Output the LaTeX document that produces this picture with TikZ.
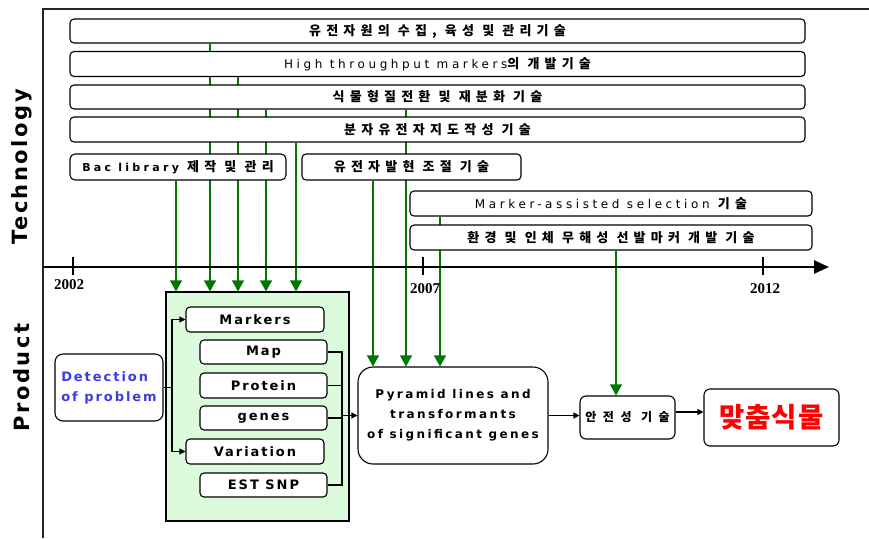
\documentclass[tikz,border=0pt]{standalone}
\usepackage{fontspec}
\usetikzlibrary{arrows.meta,backgrounds}

% fonts
\newfontfamily\krrow{Noto Sans CJK KR}[LetterSpace=40]
\newfontfamily\latrow{DejaVu Sans}[LetterSpace=30]
\newfontfamily\krsafe{Noto Sans CJK KR}[LetterSpace=55]
\newfontfamily\krbig{Noto Sans CJK KR}[LetterSpace=3]
\newfontfamily\bacfont{DejaVu Sans}[LetterSpace=30]
\newfontfamily\boxfont{DejaVu Sans}[LetterSpace=15]
\newfontfamily\pyrfont{DejaVu Sans}[LetterSpace=20]
\newfontfamily\sidefont{DejaVu Sans}[LetterSpace=12]
\newfontfamily\yearfont{Liberation Serif}

% Latin words inside the technology rows
\newcommand\latin[1]{{\latrow\mdseries\fontsize{12}{14}\selectfont #1}}

% colours
\definecolor{dkgreen}{RGB}{0,120,0}
\definecolor{prodfill}{RGB}{220,250,220}
\definecolor{detblue}{RGB}{60,60,230}
\definecolor{fitred}{RGB}{255,0,0}

\tikzset{
  techbox/.style={draw, line width=1.1pt, fill=white, rounded corners=4pt,
    inner sep=0pt, font=\krrow\bfseries\fontsize{13}{15}\selectfont},
  itembox/.style={draw, line width=1.1pt, fill=white, rounded corners=4pt,
    inner sep=0pt, font=\boxfont\bfseries\fontsize{13}{15}\selectfont},
  gline/.style={draw=dkgreen, line width=1.1pt,
    -{Triangle[width=12pt,length=11pt]}},
  blink/.style={line width=1.1pt, -{Triangle[width=6pt,length=6pt]}},
  bline/.style={line width=1.1pt},
  sidelabel/.style={rotate=90, inner sep=0pt,
    font=\sidefont\bfseries\fontsize{21}{24}\selectfont},
  yearlabel/.style={inner sep=0pt, font=\yearfont\bfseries\fontsize{15}{17}\selectfont},
  tick/.style={line width=2pt},
}

\begin{document}
\begin{tikzpicture}[x=1pt, y=-1pt]
\useasboundingbox (0,0) rectangle (869,538);

% frame
\coordinate (fbl) at (43,538);
\coordinate (ftl) at (43,9);
\coordinate (ftr) at (869,9);
\draw[line width=1.3pt, black!85] (fbl) -- (ftl) -- (ftr);

% side labels
\node[sidelabel] (tech) at (22,167) {Technology};
\node[sidelabel] (prodlabel) at (22,377.5) {Product};

% technology rows
\node[techbox, minimum width=735pt, minimum height=24pt] (r1) at (437.5,31)
  {유전자원의 수집, 육성 및 관리기술};
\node[techbox, minimum width=735pt, minimum height=25pt] (r2) at (437.5,64)
  {\latin{High throughput markers}의 개발기술};
\node[techbox, minimum width=735pt, minimum height=24pt] (r3) at (437.5,97)
  {식물형질전환 및 재분화 기술};
\node[techbox, minimum width=735pt, minimum height=25pt] (r4) at (437.5,129.5)
  {분자유전자지도작성 기술};
\node[techbox, rounded corners=5pt, minimum width=216pt, minimum height=26pt] (bac) at (178,167)
  {{\bacfont\bfseries\fontsize{11}{13}\selectfont Bac library} 제작 및 관리};
\node[techbox, minimum width=219pt, minimum height=26pt] (expr) at (411.5,167)
  {유전자발현 조절 기술};
\node[techbox, minimum width=402pt, minimum height=25pt] (mas) at (611,203.5)
  {\latin{Marker-assisted selection} 기술};
\node[techbox, minimum width=402pt, minimum height=25pt] (env) at (611,237.5)
  {환경 및 인체 무해성 선발마커 개발 기술};

% product side
\node[draw, line width=1.1pt, fill=prodfill, minimum width=183pt, minimum height=229pt,
  inner sep=0pt] (prod) at (257.5,406.5) {};
\node[itembox, minimum width=138pt, minimum height=25pt] (markers) at (255,319.5) {Markers};
\node[itembox, minimum width=127pt, minimum height=24pt] (map) at (263.5,352) {Map};
\node[itembox, minimum width=127pt, minimum height=25pt] (protein) at (263.5,385.5) {Protein};
\node[itembox, minimum width=127pt, minimum height=24pt] (genes) at (263.5,418) {genes};
\node[itembox, minimum width=138pt, minimum height=25pt] (variation) at (255,451.5) {Variation};
\node[itembox, minimum width=127pt, minimum height=24pt] (estsnp) at (263.5,485) {EST SNP};

\node[draw, line width=1.1pt, fill=white, rounded corners=8pt, minimum width=108pt,
  minimum height=67pt, inner sep=0pt, align=left, text=detblue,
  font=\boxfont\bfseries\fontsize{13}{20}\selectfont] (detect) at (109,387.5)
  {Detection\\of problem};

\node[draw, line width=1.1pt, fill=white, rounded corners=15pt, minimum width=190pt,
  minimum height=97pt, inner sep=0pt, align=center,
  font=\pyrfont\bfseries\fontsize{12}{20}\selectfont] (pyr) at (453,415.5)
  {Pyramid lines and\\transformants\\of significant genes};

\node[draw, line width=1.1pt, fill=white, rounded corners=6pt, minimum width=95pt,
  minimum height=43pt, inner sep=0pt, font=\krsafe\bfseries\fontsize{12}{14}\selectfont] (safe)
  at (627.5,417.5) {안전성 기술};

\node[draw, line width=1.1pt, fill=white, rounded corners=6pt, minimum width=135pt,
  minimum height=57pt, inner sep=0pt, text=fitred,
  font=\krbig\bfseries\fontsize{27.5}{30}\selectfont] (fit) at (771.5,417.5) {맞춤식물};

% time axis
\coordinate (axs) at (43,267);
\coordinate (axe) at (829,267);
\coordinate (t02) at (73,0);
\coordinate (t07) at (423,0);
\coordinate (t12) at (763,0);
\coordinate (ttop) at (0,257);
\coordinate (tbot) at (0,275);
\draw[line width=2.6pt, -{Triangle[width=13pt,length=15pt]}] (axs) -- (axe);
\draw[tick] (t02 |- ttop) -- (t02 |- tbot);
\draw[tick] (t07 |- ttop) -- (t07 |- tbot);
\draw[tick] (t12 |- ttop) -- (t12 |- tbot);
\node[yearlabel] (y02) at (69,285) {2002};
\node[yearlabel] (y07) at (425,289) {2007};
\node[yearlabel] (y12) at (765,289) {2012};

% technology feeds (drawn behind the boxes)
\coordinate (g1) at (176,0);
\coordinate (g2) at (210,0);
\coordinate (g3) at (238,0);
\coordinate (g4) at (266,0);
\coordinate (g5) at (296,0);
\coordinate (g6) at (373,0);
\coordinate (g7) at (406,0);
\coordinate (g8) at (440,0);
\coordinate (g9) at (616,0);
\begin{scope}[on background layer]
\draw[gline] (g1 |- bac.south) -- (g1 |- prod.north);
\draw[gline] (g2 |- r1.south) -- (g2 |- prod.north);
\draw[gline] (g3 |- r2.south) -- (g3 |- prod.north);
\draw[gline] (g4 |- r3.south) -- (g4 |- prod.north);
\draw[gline] (g5 |- r4.south) -- (g5 |- prod.north);
\draw[gline] (g6 |- expr.south) -- (g6 |- pyr.north);
\draw[gline] (g7 |- r3.south) -- (g7 |- pyr.north);
\draw[gline] (g8 |- mas.south) -- (g8 |- pyr.north);
\draw[gline] (g9 |- env.south) -- (g9 |- safe.north);
\end{scope}

% product connectors
\coordinate (lj) at (172,387.5);
\coordinate (rj) at (342,415.5);
\draw[bline] (detect.east) -- (lj);
\draw[blink] (lj) |- (markers.west);
\draw[blink] (lj) |- (variation.west);
\draw[bline] (map.east) -| (rj);
\draw[bline] (protein.east) -| (rj);
\draw[bline] (genes.east) -| (rj);
\draw[bline] (estsnp.east) -| (rj);
\draw[blink] (rj) -- (rj -| pyr.west);
\draw[blink] (pyr.east) -- (pyr.east -| safe.west);
\draw[blink] ([yshift=5.5pt]safe.east) -- ([yshift=5.5pt]safe.east -| fit.west);
\end{tikzpicture}
\end{document}
